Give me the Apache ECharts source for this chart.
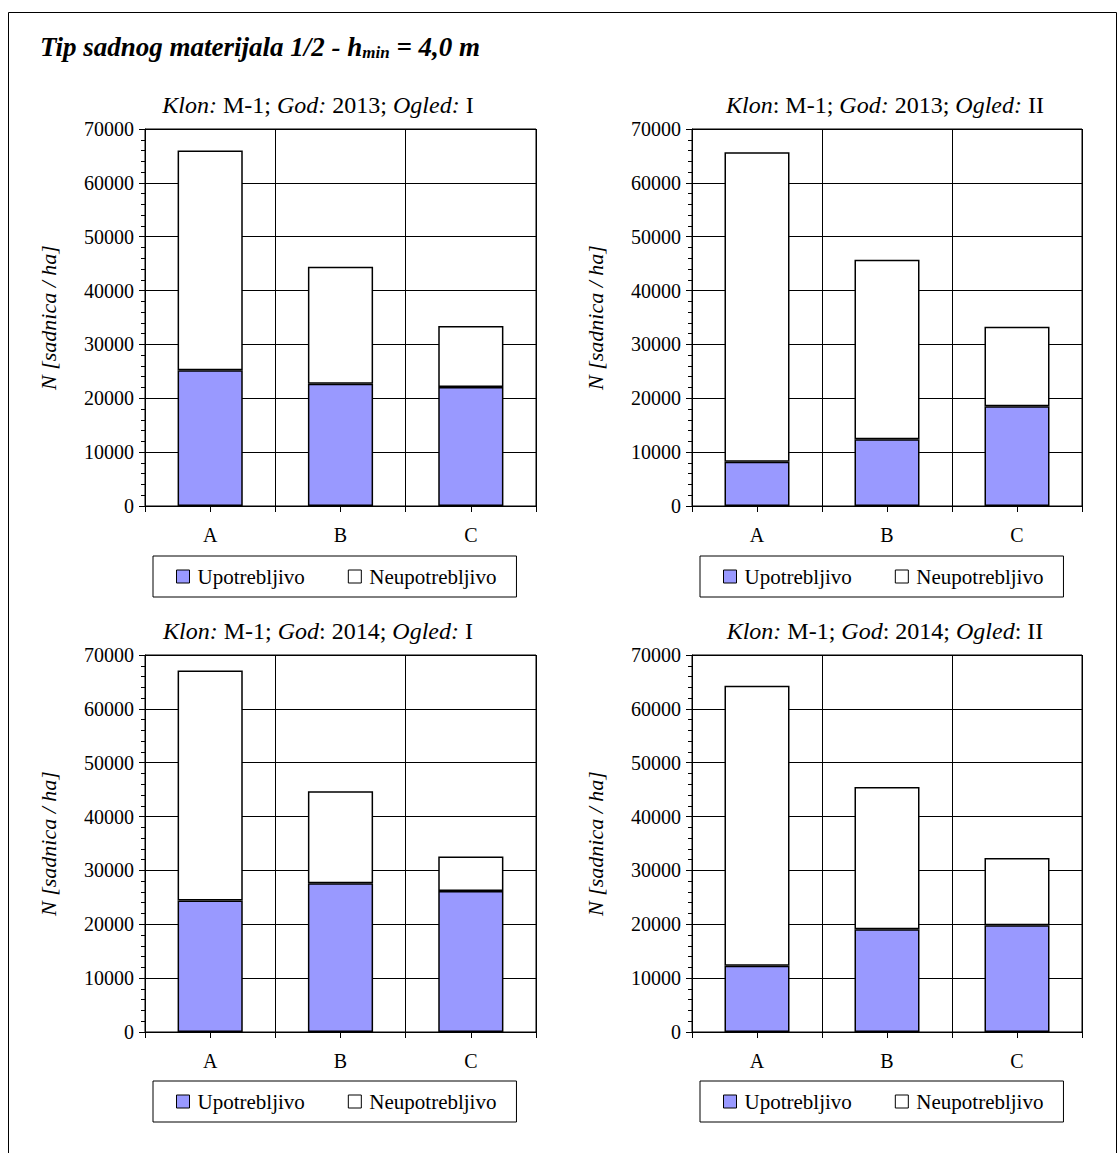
<!DOCTYPE html>
<html>
<head>
<meta charset="utf-8">
<script src="https://cdn.jsdelivr.net/npm/echarts@6/dist/echarts.min.js"></script>
<style>
html,body{margin:0;padding:0;background:#fff;}
#chart{width:1118px;height:1153px;}
</style>
</head>
<body>
<div id="chart"></div>
<script>
// ---- data ----
const categories = ['A', 'B', 'C'];
const seriesNames = ['Upotrebljivo', 'Neupotrebljivo'];
const yTicks = { min: 0, max: 70000, interval: 10000 };

const usable2013I = [25200, 22700, 22100];
const unusable2013I = [40800, 21700, 11300];

const usable2013II = [8200, 12400, 18500];
const unusable2013II = [57500, 33300, 14800];

const usable2014I = [24400, 27600, 26200];
const unusable2014I = [42700, 17100, 6400];

const usable2014II = [12300, 19100, 19800];
const unusable2014II = [52000, 26400, 12500];

const mainTitle = ['Tip sadnog materijala 1/2 - h', 'min', ' = 4,0 m'];
const panelTitles = [
  '{i|Klon:}{n| M-1; }{i|God:}{n| 2013; }{i|Ogled:}{n| I}',
  '{i|Klon}{n|: M-1; }{i|God:}{n| 2013; }{i|Ogled:}{n| II}',
  '{i|Klon:}{n| M-1; }{i|God}{n|: 2014; }{i|Ogled:}{n| I}',
  '{i|Klon:}{n| M-1; }{i|God}{n|: 2014; }{i|Ogled}{n|: II}'
];
const yName = 'N [sadnica / ha]';

// ---- layout ----
const FONT = "'Liberation Serif', 'Times New Roman', serif";
const panels = [
  { left: 145, top: 129, width: 391, height: 377, titleX: 318, titleY: 93, legX: 153, legY: 556, usable: usable2013I, unusable: unusable2013I },
  { left: 692, top: 129, width: 390, height: 377, titleX: 885, titleY: 93, legX: 700, legY: 556, usable: usable2013II, unusable: unusable2013II },
  { left: 145, top: 655, width: 391, height: 377, titleX: 318, titleY: 619, legX: 153, legY: 1081, usable: usable2014I, unusable: unusable2014I },
  { left: 692, top: 655, width: 390, height: 377, titleX: 885, titleY: 619, legX: 700, legY: 1081, usable: usable2014II, unusable: unusable2014II }
];
const colors = ['#9999FF', '#FFFFFF'];

const option = {
  animation: false,
  backgroundColor: '#ffffff',
  textStyle: { fontFamily: FONT, color: '#000' },
  title: [],
  legend: [],
  grid: [],
  xAxis: [],
  yAxis: [],
  series: [],
  graphic: [{
    type: 'rect',
    shape: { x: 8.5, y: 12.5, width: 1108, height: 1200 },
    style: { fill: 'none', stroke: '#000', lineWidth: 1 },
    silent: true,
    z: -10
  }]
};

option.title.push({
  left: 40, top: 31, padding: 0,
  text: '{b|' + mainTitle[0] + '}{s|' + mainTitle[1] + '}{b|' + mainTitle[2] + '}',
  textStyle: {
    fontFamily: FONT,
    rich: {
      b: { fontFamily: FONT, fontSize: 27, fontWeight: 'bold', fontStyle: 'italic', color: '#000', lineHeight: 32 },
      s: { fontFamily: FONT, fontSize: 17, fontWeight: 'bold', fontStyle: 'italic', color: '#000', lineHeight: 32, padding: [11, 0, 0, 0] }
    }
  }
});

panels.forEach((p, i) => {
  option.title.push({
    left: p.titleX, top: p.titleY, padding: 0, textAlign: 'center',
    text: panelTitles[i],
    textStyle: {
      fontFamily: FONT, fontWeight: 'normal',
      rich: {
        i: { fontFamily: FONT, fontSize: 24, fontStyle: 'italic', fontWeight: 'normal', color: '#000' },
        n: { fontFamily: FONT, fontSize: 24, fontStyle: 'normal', fontWeight: 'normal', color: '#000' }
      }
    }
  });
  option.grid.push({
    left: p.left, top: p.top, width: p.width, height: p.height,
    show: true, borderColor: '#000', borderWidth: 1, backgroundColor: 'transparent', containLabel: false
  });
  option.legend.push({
    left: p.legX, top: p.legY,
    padding: [10, 20, 10, 23],
    itemGap: 43, itemWidth: 13, itemHeight: 13,
    borderColor: '#000', borderWidth: 1,
    icon: 'rect',
    itemStyle: { borderColor: '#000', borderWidth: 1 },
    textStyle: { fontFamily: FONT, fontSize: 21, color: '#000', padding: [0, 0, 0, 3] },
    data: seriesNames.slice(),
    selectedMode: false
  });
  option.xAxis.push({
    type: 'category', gridIndex: i, data: categories, position: 'bottom',
    boundaryGap: true,
    axisLine: { show: true, lineStyle: { color: '#000', width: 1 } },
    axisTick: { show: true, length: 6, lineStyle: { color: '#000', width: 1 } },
    axisLabel: { fontFamily: FONT, fontSize: 20, color: '#000', margin: 19 },
    splitLine: { show: true, lineStyle: { color: '#000', width: 1 } }
  });
  option.yAxis.push({
    type: 'value', gridIndex: i,
    min: yTicks.min, max: yTicks.max, interval: yTicks.interval,
    axisLine: { show: true, lineStyle: { color: '#000', width: 1 } },
    axisTick: { show: true, length: 6, lineStyle: { color: '#000', width: 1 } },
    minorTick: { show: true, splitNumber: 5, length: 4, lineStyle: { color: '#000', width: 1 } },
    splitLine: { show: true, lineStyle: { color: '#000', width: 1 } },
    axisLabel: { fontFamily: FONT, fontSize: 20, color: '#000', margin: 11, formatter: v => String(v) },
    name: yName, nameLocation: 'middle', nameGap: 86,
    nameTextStyle: { fontFamily: FONT, fontSize: 22, fontStyle: 'italic', color: '#000' }
  });
  option.series.push({
    type: 'bar', name: seriesNames[0], xAxisIndex: i, yAxisIndex: i, stack: 's' + i,
    barWidth: '50%', data: p.usable,
    itemStyle: { color: colors[0], borderColor: '#000', borderWidth: 1.5 }
  });
  option.series.push({
    type: 'bar', name: seriesNames[1], xAxisIndex: i, yAxisIndex: i, stack: 's' + i,
    barWidth: '50%', data: p.unusable,
    itemStyle: { color: colors[1], borderColor: '#000', borderWidth: 1.5 }
  });
});

// extra axes for the mid-category ticks
panels.forEach((p, i) => {
  option.xAxis.push({
    type: 'category', gridIndex: i, position: 'bottom',
    data: ['', '', '', '', '', ''],
    boundaryGap: true,
    axisLine: { show: false },
    axisTick: { show: true, interval: 0, length: 6, lineStyle: { color: '#000', width: 1 } },
    axisLabel: { show: false },
    splitLine: { show: false }
  });
});

const chart = echarts.init(document.getElementById('chart'), null, { renderer: 'svg' });
chart.setOption(option);
</script>
</body>
</html>
